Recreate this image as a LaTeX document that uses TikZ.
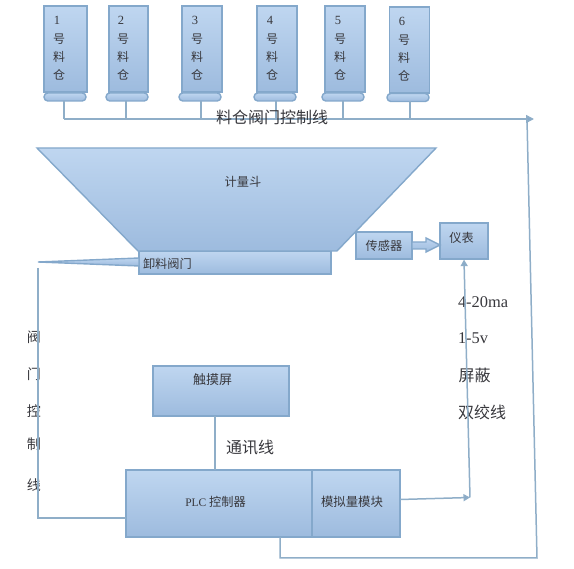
\documentclass[tikz,border=0pt]{standalone}
\usepackage{fontspec}
\setmainfont{Liberation Serif}
\newfontfamily\cjk{Noto Sans CJK SC}[BoldFont=Noto Sans CJK SC]
\usetikzlibrary{arrows.meta,calc}
\definecolor{edgeblue}{HTML}{84A8CB}
\definecolor{wireblue}{HTML}{8FAEC8}
\definecolor{topblue}{HTML}{BFD6F0}
\definecolor{botblue}{HTML}{9DBBDE}
\definecolor{inkgrey}{HTML}{38383D}
\tikzset{
  x=1pt,y=-1pt,
  every node/.style={text=inkgrey,font=\cjk\fontsize{12.2}{14}\selectfont,inner sep=0pt,outer sep=0pt},
  boxfill/.style={draw=edgeblue,line width=1.4pt,top color=topblue,bottom color=botblue},
  bin/.style={boxfill,minimum width=40pt,minimum height=86pt},
  binfoot/.style={boxfill,rounded corners=3.8pt,minimum width=42pt,minimum height=8pt},
  bintext/.style={align=center,font=\cjk\fontsize{12}{18.4}\selectfont},
  wire/.style={draw=wireblue,line width=1.5pt},
  wirearrow/.style={wire,-{Triangle[length=8pt,width=8pt,fill=edgeblue]}},
  smallarrow/.style={wire,-{Triangle[length=6.5pt,width=7pt,fill=edgeblue]}},
  biglabel/.style={font=\cjk\fontsize{16}{18}\selectfont},
  sidelabel/.style={font=\cjk\fontsize{14}{16}\selectfont},
  rightlabel/.style={anchor=west,font=\cjk\fontsize{16}{18}\selectfont},
  latinlabel/.style={anchor=west,font=\fontsize{16.4}{18}\selectfont}
}
\newcommand{\binlabel}[1]{{\fontsize{12.5}{18.4}\fontspec{Liberation Serif}#1}\hspace*{4pt}\\号\\料\\仓}
\begin{document}
\begin{tikzpicture}
\useasboundingbox (0,0) rectangle (574,569);
% bins
\node[bin,minimum width=43pt] (b1) at (65.5,49) {};
\node[bin,minimum width=39pt] (b2) at (128.5,49) {};
\node[bin] (b3) at (202,49) {};
\node[bin] (b4) at (277,49) {};
\node[bin] (b5) at (345,49) {};
\node[bin] (b6) at (409.5,50) {};
\node[bintext] (t1) at (59,48.5) {\binlabel{1}};
\node[bintext] (t2) at (123,48.5) {\binlabel{2}};
\node[bintext] (t3) at (197,48.5) {\binlabel{3}};
\node[bintext] (t4) at (272,48.5) {\binlabel{4}};
\node[bintext] (t5) at (340,48.5) {\binlabel{5}};
\node[bintext] (t6) at (404,49.5) {\binlabel{6}};
\node[binfoot] (f1) at (65,97) {};
\node[binfoot] (f2) at (127,97) {};
\node[binfoot] (f3) at (200,97) {};
\node[binfoot] (f4) at (275,97) {};
\node[binfoot] (f5) at (343,97) {};
\node[binfoot] (f6) at (408,97.5) {};
% control bus
\coordinate (busL) at (64,119);
\coordinate (busR) at (534,119);
\coordinate (turn) at (527,119);
\coordinate (lowR) at (537,558);
\coordinate (lowL) at (280,558);
\draw[wire] (f1.south -| busL) -- (busL);
\foreach \f/\x in {f2/126,f3/201,f4/276,f5/343,f6/410}{
  \coordinate (tap) at (\x,119);
  \draw[wire] (\f.south -| tap) -- (tap);
}
\draw[wirearrow] (busL) -- (busR);
\node[biglabel] (busT) at (272,117) {料仓阀门控制线};
% hopper
\node[boxfill,minimum width=192pt,minimum height=23pt,anchor=north west] (valve) at (139,251) {};
\draw[boxfill] (37,148) -- (436,148) -- (337,251) -- (138,251) -- cycle;
\node (hopT) at (243,182) {计量斗};
\draw[boxfill] (139,258) -- (38,262) -- (139,266) -- cycle;
\coordinate (needle) at (38,268);
\node[anchor=west] (valveT) at (143,264) {卸料阀门};
% sensor and meter
\node[boxfill,minimum width=56pt,minimum height=27pt] (sensor) at (384,245.5) {传感器};
\node[boxfill,minimum width=48pt,minimum height=36pt] (meter) at (464,241) {};
\node (meterT) at (461.5,238) {仪表};
\draw[boxfill] (sensor.east |- 0,242) -- (426,242) -- (426,238) -- (440,245) -- (426,252) -- (426,249) -- (sensor.east |- 0,249) -- cycle;
% touch screen and PLC
\node[boxfill,minimum width=136pt,minimum height=50pt] (touch) at (221,391) {};
\node[font=\cjk\fontsize{13}{15}\selectfont] (touchT) at (212.5,380) {触摸屏};
\node[boxfill,minimum width=186pt,minimum height=67pt,anchor=north west] (plc) at (126,470) {};
\node[boxfill,minimum width=88pt,minimum height=67pt,anchor=north west] (mod) at (312,470) {};
\node (plcT) at (215.5,502) {{\fontsize{11.5}{14}\fontspec{Liberation Serif}PLC} 控制器};
\node[font=\cjk\fontsize{12.4}{14}\selectfont] (modT) at (352,502) {模拟量模块};
\coordinate (plcTop) at (215,470);
\draw[wire] (touch.south -| plcTop) -- (plcTop);
\node[biglabel] (commT) at (250,448) {通讯线};
% side labels (drawn under the wires)
\node[sidelabel] (v1) at (34,337) {阀};
\node[sidelabel] (v2) at (34,374) {门};
\node[sidelabel] (v3) at (34,411) {控};
\node[sidelabel] (v4) at (34,444) {制};
\node[sidelabel] (v5) at (34,485) {线};
\node[latinlabel] (s1) at (458,302) {4-20ma};
\node[latinlabel] (s2) at (458,338) {1-5v};
\node[rightlabel] (s3) at (458.5,375) {屏蔽};
\node[rightlabel] (s4) at (458,412) {双绞线};
% wires
\coordinate (leftB) at (38,518);
\draw[wire] (needle) -- (leftB) -- (plc.west |- leftB);
\coordinate (modOut) at (400,499.5);
\coordinate (meterIn) at (470,497.5);
\draw[smallarrow] (modOut) -- (meterIn);
\coordinate (meterUp) at (464,259.6);
\draw[smallarrow] (meterIn) -- (meterUp);
\draw[wire] (turn) -- (lowR) -- (lowL) -- (lowL |- plc.south);
\end{tikzpicture}
\end{document}
